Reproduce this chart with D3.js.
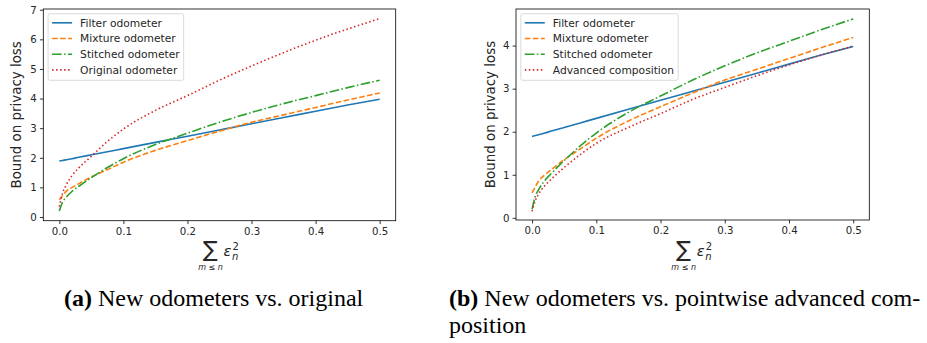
<!DOCTYPE html>
<html>
<head>
<meta charset="utf-8">
<script src="https://cdn.jsdelivr.net/npm/d3@7"></script>
<style>
  body { margin: 0; background: #fff; }
  svg { display: block; }
</style>
</head>
<body>
<div id="chart"></div>
<script>
const WIDTH = 927
const HEIGHT = 343

// values
const xVals = [0, 0.005, 0.01, 0.02, 0.03, 0.05, 0.075, 0.1, 0.15, 0.2, 0.25, 0.3, 0.35, 0.4, 0.45, 0.5]
const filterOdometer = [1.89, 1.91, 1.93, 1.97, 2.015, 2.1, 2.205, 2.31, 2.52, 2.73, 2.94, 3.15, 3.36, 3.57, 3.78, 3.98]
const mixtureOdometer = [0.58, 0.72, 0.85, 1.0, 1.12, 1.35, 1.6, 1.85, 2.25, 2.58, 2.9, 3.2, 3.45, 3.7, 3.95, 4.19]
const stitchedOdometer = [0.2, 0.5, 0.65, 0.87, 1.03, 1.33, 1.67, 1.97, 2.45, 2.83, 3.2, 3.53, 3.83, 4.1, 4.37, 4.62]
const originalOdometer = [0.35, 0.8, 1.05, 1.4, 1.65, 2.05, 2.55, 2.97, 3.6, 4.1, 4.62, 5.1, 5.55, 5.97, 6.35, 6.7]
const advancedComposition = [0.15, 0.4, 0.55, 0.75, 0.9, 1.17, 1.47, 1.73, 2.1, 2.42, 2.75, 3.03, 3.3, 3.55, 3.78, 3.99]

const xTicks = [0, 0.1, 0.2, 0.3, 0.4, 0.5]
const yTicksA = [0, 1, 2, 3, 4, 5, 6, 7]
const yTicksB = [0, 1, 2, 3, 4]
const labelsA = ['Filter odometer', 'Mixture odometer', 'Stitched odometer', 'Original odometer']
const labelsB = ['Filter odometer', 'Mixture odometer', 'Stitched odometer', 'Advanced composition']
const yLabel = 'Bound on privacy loss'
const captionA = ['New odometers vs. original']
const captionB = ['New odometers vs. pointwise advanced com-', 'position']

const LW = 1.6
const styles = [
  { color: '#1f77b4', dash: null },
  { color: '#ff7f0e', dash: '5.6,2.4' },
  { color: '#2ca02c', dash: '9.6,2.4,1.5,2.4' },
  { color: '#d62728', dash: '1.5,2.5' }
]
const FONT = "'DejaVu Sans', sans-serif"

const svg = d3.select('#chart')
  .append('svg')
  .attr('width', WIDTH)
  .attr('height', HEIGHT)

drawPanel({
  left: 43.3, right: 395.7, top: 9, bottom: 220.7,
  yDomain: [-0.125, 7.025], yTicks: yTicksA,
  series: [filterOdometer, mixtureOdometer, stitchedOdometer, originalOdometer],
  labels: labelsA, yLabelX: 16
})
drawPanel({
  left: 516, right: 869.3, top: 9, bottom: 220,
  yDomain: [-0.05, 4.85], yTicks: yTicksB,
  series: [filterOdometer, mixtureOdometer, stitchedOdometer, advancedComposition],
  labels: labelsB, yLabelX: 490
})

drawCaption(64, 306, 'a', captionA)
drawCaption(449, 306, 'b', captionB)

function drawPanel(cfg) {
  const x = d3.scaleLinear().domain([-0.025, 0.525]).range([cfg.left, cfg.right])
  const y = d3.scaleLinear().domain(cfg.yDomain).range([cfg.bottom, cfg.top])
  const g = svg.append('g')

  const line = d3.line()
    .x((d, i) => x(xVals[i]))
    .y(d => y(d))
    .curve(d3.curveMonotoneX)

  cfg.series.forEach((vals, i) => {
    g.append('path')
      .datum(vals)
      .attr('d', line)
      .attr('fill', 'none')
      .attr('stroke', styles[i].color)
      .attr('stroke-width', LW)
      .attr('stroke-dasharray', styles[i].dash)
  })

  // axes
  const xAxis = g.append('g')
    .attr('transform', `translate(0,${cfg.bottom})`)
    .call(d3.axisBottom(x).tickValues(xTicks).tickFormat(d3.format('.1f')).tickSizeInner(3.4).tickSizeOuter(0).tickPadding(3.2))
  const yAxis = g.append('g')
    .attr('transform', `translate(${cfg.left},0)`)
    .call(d3.axisLeft(y).tickValues(cfg.yTicks).tickFormat(d3.format('d')).tickSizeInner(3.4).tickSizeOuter(0).tickPadding(3.2))
  ;[xAxis, yAxis].forEach(a => {
    a.select('.domain').remove()
    a.selectAll('line').attr('stroke', '#000').attr('stroke-width', 0.8)
    a.selectAll('text').attr('font-family', FONT).attr('font-size', 10.2).attr('fill', '#262626')
  })

  // frame
  g.append('rect')
    .attr('x', cfg.left).attr('y', cfg.top)
    .attr('width', cfg.right - cfg.left).attr('height', cfg.bottom - cfg.top)
    .attr('fill', 'none').attr('stroke', '#000').attr('stroke-width', 0.8)

  // y label
  g.append('text')
    .attr('transform', `translate(${cfg.yLabelX},${(cfg.top + cfg.bottom) / 2}) rotate(-90)`)
    .attr('text-anchor', 'middle')
    .attr('dy', '0.35em')
    .attr('font-family', FONT)
    .attr('font-size', 13.4)
    .attr('fill', '#262626')
    .text(yLabel)

  // x label: sum_{m<=n} eps_n^2
  const cx = (cfg.left + cfg.right) / 2
  const xl = g.append('g').attr('font-family', FONT).attr('fill', '#262626')
  xl.append('text').attr('x', cx - 9).attr('y', 257).attr('text-anchor', 'middle').attr('font-size', 22).text('\u2211')
  xl.append('text').attr('x', cx + 4).attr('y', 256).attr('font-size', 14.5).attr('font-style', 'italic').text('\u03b5')
  xl.append('text').attr('x', cx + 13).attr('y', 249.5).attr('font-size', 10).text('2')
  xl.append('text').attr('x', cx + 12.5).attr('y', 259.5).attr('font-size', 10).attr('font-style', 'italic').text('n')
  xl.append('text').attr('x', cx - 9).attr('y', 270).attr('text-anchor', 'middle').attr('font-size', 8).attr('font-style', 'italic').text('m \u2264 n')

  // legend
  const lg = g.append('g').attr('transform', `translate(${cfg.left + 4.8},${cfg.top + 4.8})`)
  const box = lg.append('rect')
    .attr('rx', 2).attr('ry', 2)
    .attr('fill', '#fff').attr('fill-opacity', 0.8)
    .attr('stroke', '#d0d0d0').attr('stroke-width', 0.8)
  let maxW = 0
  cfg.labels.forEach((lab, i) => {
    const ry = 9 + i * 15.7
    lg.append('line')
      .attr('x1', 4).attr('x2', 24).attr('y1', ry).attr('y2', ry)
      .attr('stroke', styles[i].color).attr('stroke-width', LW)
      .attr('stroke-dasharray', styles[i].dash)
    const t = lg.append('text')
      .attr('x', 32).attr('y', ry).attr('dy', '0.35em')
      .attr('font-family', FONT).attr('font-size', 10.7).attr('fill', '#262626')
      .text(lab)
    maxW = Math.max(maxW, t.node().getComputedTextLength())
  })
  box.attr('width', 32 + maxW + 4).attr('height', 66.5)
}

function drawCaption(x0, y0, tag, lines) {
  const t = svg.append('text')
    .style('font-family', '"Liberation Serif", "DejaVu Serif", serif')
    .attr('font-size', 24)
    .attr('fill', '#000')
  lines.forEach((ln, i) => {
    const ts = t.append('tspan').attr('x', x0).attr('y', y0 + i * 27)
    if (i === 0) {
      ts.append('tspan').attr('font-weight', 'bold').text(`(${tag})`)
      ts.append('tspan').text(' ' + ln)
    } else {
      ts.text(ln)
    }
  })
}
</script>
</body>
</html>
